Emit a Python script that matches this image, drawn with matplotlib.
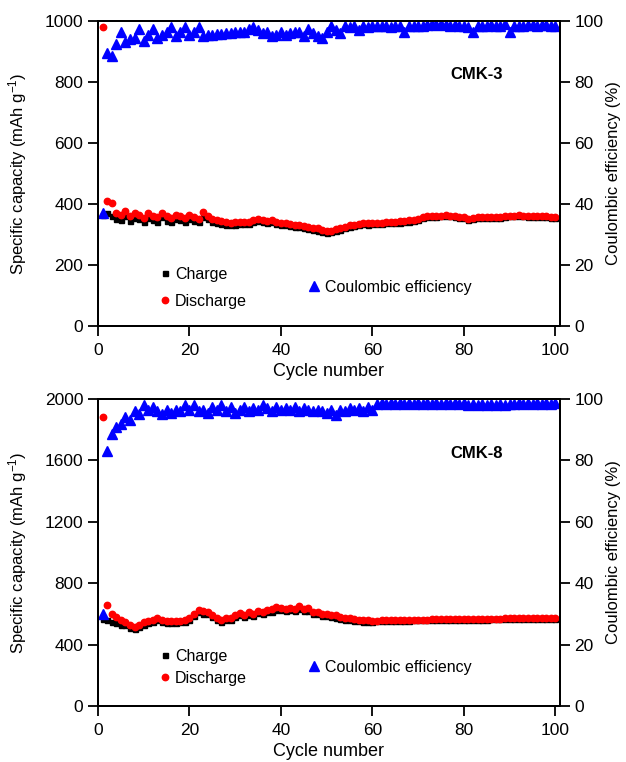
import matplotlib.pyplot as plt

plt.rcParams['font.family'] = ['Liberation Sans', 'DejaVu Sans']
plt.rcParams['mathtext.fontset'] = 'custom'
plt.rcParams['mathtext.rm'] = 'Liberation Sans'
plt.rcParams['mathtext.it'] = 'Liberation Sans:italic'

cycles = list(range(1, 101))

# CMK-3
cmk3_discharge = [980, 410, 403, 370, 365, 378, 360, 372, 365, 355,
                  370, 362, 358, 372, 360, 355, 365, 362, 355, 365,
                  358, 352, 375, 362, 352, 348, 345, 340, 338, 340,
                  342, 340, 342, 348, 350, 348, 345, 347, 342, 338,
                  336, 334, 332, 330, 328, 325, 322, 320, 315, 312,
                  312, 318, 322, 325, 330, 332, 335, 338, 336, 337,
                  338, 338, 340, 340, 342, 343, 344, 346, 348, 350,
                  358, 362, 362, 361, 362, 363, 362, 360, 358, 356,
                  352, 354, 356, 357, 356, 357, 356, 358, 360, 362,
                  362, 363, 362, 361, 360, 360, 359, 359, 358, 358]
cmk3_charge = [365, 372, 360, 352, 348, 360, 345, 355, 350, 342,
               355, 348, 342, 356, 345, 340, 350, 346, 340, 350,
               345, 340, 358, 350, 342, 338, 334, 332, 330, 332,
               334, 333, 335, 342, 343, 340, 338, 340, 335, 332,
               330, 328, 326, 325, 322, 318, 315, 313, 308, 305,
               307, 312, 316, 320, 325, 327, 330, 333, 332, 333,
               334, 334, 336, 336, 338, 339, 340, 342, 344, 346,
               354, 358, 358, 358, 359, 360, 359, 357, 355, 353,
               349, 351, 353, 354, 353, 354, 353, 355, 357, 359,
               359, 360, 359, 358, 357, 357, 356, 356, 355, 355]
cmk3_ce = [37.0, 89.5, 88.5, 92.5, 96.5, 93.0, 94.0, 94.5, 97.5, 93.5,
           95.5, 97.5, 94.5, 95.5, 96.5, 98.0, 95.0, 96.5, 98.0, 95.5,
           96.5, 98.0, 95.0, 95.5, 95.5, 95.8, 95.8, 96.0, 96.0, 96.3,
           96.5, 96.5, 97.5, 98.0, 97.0, 96.0, 96.5, 95.0, 95.3, 96.5,
           95.5, 96.0, 96.5, 96.3, 95.2, 97.5, 96.0, 95.0, 94.5, 96.5,
           98.5, 97.0, 96.0, 98.5, 98.0, 98.5, 97.0, 98.5, 98.0, 98.5,
           98.5, 98.3, 98.5, 98.0, 98.5, 98.3, 96.3, 98.5, 98.3, 98.5,
           98.5, 98.8, 99.0, 98.7, 99.0, 98.8, 98.5, 98.8, 98.5, 98.3,
           98.0, 96.5, 98.3, 98.5, 98.5, 98.7, 98.5, 98.5, 99.0, 96.5,
           98.3, 98.5, 98.5, 98.7, 98.7, 98.5, 98.7, 98.7, 98.5, 98.3]

# CMK-8
cmk8_discharge = [1880, 656, 600, 580, 560, 545, 530, 515, 530, 545,
                  552, 560, 572, 558, 552, 555, 556, 555, 560, 570,
                  600, 625, 618, 612, 595, 575, 562, 570, 575, 590,
                  605, 595, 610, 600, 618, 612, 625, 630, 642, 640,
                  632, 640, 635, 650, 630, 640, 615, 610, 600, 598,
                  595, 590, 582, 575, 570, 565, 562, 560, 557, 556,
                  556, 557, 558, 559, 560, 560, 561, 561, 562, 562,
                  563, 563, 564, 564, 565, 565, 565, 566, 566, 567,
                  567, 567, 568, 568, 568, 569, 569, 569, 570, 570,
                  570, 571, 571, 571, 572, 572, 572, 572, 573, 573]
cmk8_charge = [565, 560, 550, 540, 530, 525, 510, 502, 515, 530,
               540, 548, 558, 545, 540, 542, 543, 545, 550, 560,
               585, 610, 602, 598, 582, 562, 550, 558, 562, 578,
               590, 582, 596, 588, 605, 600, 612, 615, 625, 625,
               620, 624, 620, 632, 618, 622, 600, 598, 588, 585,
               580, 575, 568, 562, 558, 553, 551, 549, 548, 547,
               551, 552, 553, 554, 555, 555, 556, 556, 557, 557,
               558, 558, 559, 559, 560, 560, 560, 561, 561, 562,
               562, 562, 563, 563, 563, 564, 564, 564, 565, 565,
               565, 566, 566, 566, 567, 567, 567, 567, 568, 568]
cmk8_ce = [30.0, 83.0, 88.5, 91.0, 92.0, 94.0, 93.0, 96.0, 95.0, 98.0,
           96.5, 97.5, 96.0, 95.0, 96.5, 95.3, 96.5, 96.0, 98.0, 96.5,
           98.0, 96.0, 96.5, 95.5, 97.5, 96.5, 98.0, 96.0, 97.5, 95.5,
           96.5, 97.5, 96.0, 97.0, 96.5, 98.0, 97.0, 96.0, 97.5, 96.5,
           97.0, 96.5, 97.5, 96.0, 97.0, 96.5, 96.0, 96.5, 96.0, 95.5,
           96.5, 94.8, 96.5, 96.0, 97.0, 96.5, 97.0, 96.0, 97.5, 96.5,
           98.4, 98.8, 98.4, 98.8, 98.4, 98.8, 98.4, 98.8, 98.4, 98.6,
           98.4, 98.8, 98.4, 98.6, 98.4, 98.8, 98.3, 98.6, 98.3, 98.6,
           98.2, 98.5, 98.2, 98.4, 98.1, 98.4, 98.1, 98.3, 98.0, 98.3,
           98.3, 98.6, 98.3, 98.6, 98.4, 98.7, 98.4, 98.7, 98.5, 98.8]

panels = [
    ('CMK-3', cmk3_charge, cmk3_discharge, cmk3_ce, 1000, 200, 0.75),
    ('CMK-8', cmk8_charge, cmk8_discharge, cmk8_ce, 2000, 400, 0.45),
]
boxes = [[0.1565, 0.5722, 0.738, 0.4003], [0.1565, 0.0735, 0.738, 0.4029]]

fig = plt.figure(figsize=(6.26, 7.62), dpi=100)

for box, (name, charge, discharge, ce, ymax, ystep, lsp) in zip(boxes, panels):
    ax = fig.add_axes(box)
    ax2 = ax.twinx()

    ch, = ax.plot(cycles, charge, 's', color='black', ms=3.6, ls='none', label='Charge')
    dis, = ax.plot(cycles, discharge, 'o', color='#ff0000', ms=4.6, ls='none', label='Discharge')
    eff, = ax2.plot(cycles, ce, '^', color='#0000ff', ms=6.5, ls='none', label='Coulombic efficiency')

    ax.set_xlim(0, 101)
    ax.set_ylim(0, ymax)
    ax2.set_ylim(0, 100)
    ax.set_xticks(range(0, 101, 20))
    ax.set_yticks(range(0, ymax + 1, ystep))
    ax2.set_yticks(range(0, 101, 20))

    for a in (ax, ax2):
        for s in a.spines.values():
            s.set_linewidth(1.4)
        a.tick_params(direction='out', length=7.5, width=1.3, labelsize=12.5, pad=3)
    ax.tick_params(axis='x', pad=5)

    ax.set_xlabel('Cycle number', fontsize=13, labelpad=3)
    ax.set_ylabel('Specific capacity (mAh g$^{-1}$)', fontsize=12, labelpad=11)
    ax2.set_ylabel('Coulombic efficiency (%)', fontsize=12, labelpad=2)

    ax.text(0.82, 0.823, name, transform=ax.transAxes, ha='center', va='center',
            fontsize=12, fontweight='bold')

    # legends: capacity markers on the left, efficiency in the middle
    leg1 = ax2.legend(handles=[ch, dis], loc='center left', bbox_to_anchor=(0.134, 0.126),
                      frameon=False, fontsize=11.5, handlelength=0.6, handletextpad=0.35,
                      borderpad=0, borderaxespad=0, labelspacing=lsp, markerscale=1.0)
    ax2.add_artist(leg1)
    ax2.legend(handles=[eff], loc='center left', bbox_to_anchor=(0.457, 0.127),
               frameon=False, fontsize=11.5, handlelength=0.6, handletextpad=0.4,
               borderpad=0, borderaxespad=0)

fig.savefig('out.png', dpi=100)
